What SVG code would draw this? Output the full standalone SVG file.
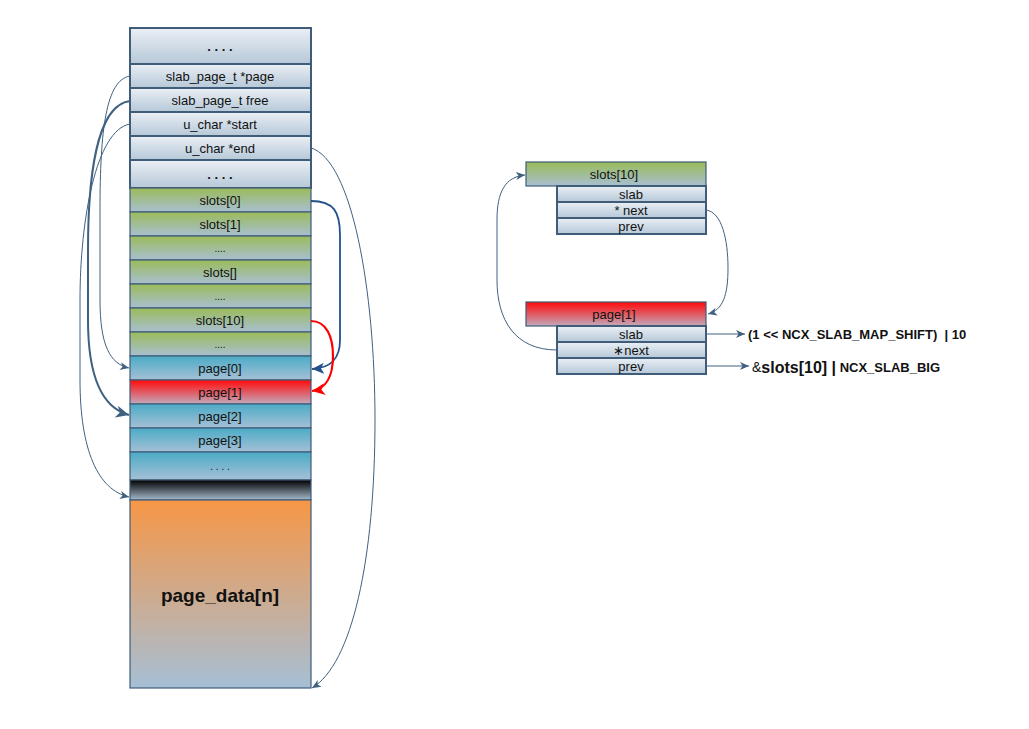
<svg xmlns="http://www.w3.org/2000/svg" width="1029" height="729" viewBox="0 0 1029 729">
<defs>
<style>
text{font-family:"Liberation Sans",Arial,sans-serif;fill:#111;text-anchor:middle;dominant-baseline:central}
.lbl{font-size:13px}
.dot{font-size:10px}
.hdr{stroke:#3f5d78;stroke-width:2}
.row{stroke:#3f5d78;stroke-width:1.2}
.gr{fill:url(#gGray)}
.gn{fill:url(#gGreen)}
.bl{fill:url(#gBlue)}
.rd{fill:url(#gRed)}
.c{fill:none;stroke:#3f6180;stroke-width:1}
.ck{fill:none;stroke:#3f6180;stroke-width:2}
.cb{fill:none;stroke:#24508a;stroke-width:1.8}
.cr{fill:none;stroke:#ff0000;stroke-width:2.2}
.note{text-anchor:start;font-weight:bold;font-size:13px;white-space:pre}
</style>
<linearGradient id="gGray" x1="0" y1="0" x2="0" y2="1"><stop offset="0" stop-color="#eaeff5"/><stop offset="1" stop-color="#b6c8d8"/></linearGradient>
<linearGradient id="gGreen" x1="0" y1="0" x2="0" y2="1"><stop offset="0" stop-color="#9bbb59"/><stop offset="1" stop-color="#a8bfd2"/></linearGradient>
<linearGradient id="gBlue" x1="0" y1="0" x2="0" y2="1"><stop offset="0" stop-color="#4aabc6"/><stop offset="1" stop-color="#a6c0d6"/></linearGradient>
<linearGradient id="gRed" x1="0" y1="0" x2="0" y2="1"><stop offset="0" stop-color="#ff0a0a"/><stop offset="1" stop-color="#c2aabc"/></linearGradient>
<linearGradient id="gBlack" x1="0" y1="0" x2="0" y2="1"><stop offset="0" stop-color="#000000"/><stop offset="1" stop-color="#a5bacd"/></linearGradient>
<linearGradient id="gOrange" x1="0" y1="0" x2="0" y2="1"><stop offset="0" stop-color="#f79646"/><stop offset="1" stop-color="#a6bfd5"/></linearGradient>
<marker id="aS" markerUnits="userSpaceOnUse" markerWidth="9" markerHeight="8" refX="9" refY="4" orient="auto"><path d="M0,0 L9,4 L0,8 L2.5,4 z" fill="#3f6180"/></marker>
<marker id="aK" markerUnits="userSpaceOnUse" markerWidth="13" markerHeight="12" refX="13" refY="6" orient="auto"><path d="M0,0 L13,6 L0,12 L3.5,6 z" fill="#3f6180"/></marker>
<marker id="aB" markerUnits="userSpaceOnUse" markerWidth="12" markerHeight="11" refX="12" refY="5.5" orient="auto"><path d="M0,0 L12,5.5 L0,11 L3,5.5 z" fill="#24508a"/></marker>
<marker id="aR" markerUnits="userSpaceOnUse" markerWidth="13" markerHeight="12" refX="13" refY="6" orient="auto"><path d="M0,0 L13,6 L0,12 L3.5,6 z" fill="#ff0000"/></marker>
</defs>
<rect width="1029" height="729" fill="#ffffff"/>

<g id="memory">
<g id="top-dots"><rect x="130" y="28" width="181" height="36" class="gr hdr"/><text x="220" y="46" style="font-weight:bold;font-size:13px">. . . .</text></g>
<g id="slab-page"><rect x="130" y="64" width="181" height="24" class="gr hdr"/><text x="220" y="76" class="lbl">slab_page_t *page</text></g>
<g id="slab-free"><rect x="130" y="88" width="181" height="24" class="gr hdr"/><text x="220" y="100" class="lbl">slab_page_t free</text></g>
<g id="start"><rect x="130" y="112" width="181" height="24" class="gr hdr"/><text x="220" y="124" class="lbl">u_char *start</text></g>
<g id="end"><rect x="130" y="136" width="181" height="24" class="gr hdr"/><text x="220" y="148" class="lbl">u_char *end</text></g>
<g id="mid-dots"><rect x="130" y="160" width="181" height="28" class="gr hdr"/><text x="220" y="174" style="font-weight:bold;font-size:13px">. . . .</text></g>
<g id="slots0"><rect x="130" y="188" width="181" height="24" class="gn row"/><text x="220" y="200" class="lbl">slots[0]</text></g>
<g id="slots1"><rect x="130" y="212" width="181" height="24" class="gn row"/><text x="220" y="224" class="lbl">slots[1]</text></g>
<g id="slots-dots1"><rect x="130" y="236" width="181" height="24" class="gn row"/><text x="220" y="248" class="dot">....</text></g>
<g id="slots-n"><rect x="130" y="260" width="181" height="24" class="gn row"/><text x="220" y="272" class="lbl">slots[]</text></g>
<g id="slots-dots2"><rect x="130" y="284" width="181" height="24" class="gn row"/><text x="220" y="296" class="dot">....</text></g>
<g id="slots10"><rect x="130" y="308" width="181" height="24" class="gn row"/><text x="220" y="320" class="lbl">slots[10]</text></g>
<g id="slots-dots3"><rect x="130" y="332" width="181" height="24" class="gn row"/><text x="220" y="344" class="dot">....</text></g>
<g id="page0"><rect x="130" y="356" width="181" height="24" class="bl row"/><text x="220" y="368" class="lbl">page[0]</text></g>
<g id="page1"><rect x="130" y="380" width="181" height="24" class="rd row"/><text x="220" y="392" class="lbl">page[1]</text></g>
<g id="page2"><rect x="130" y="404" width="181" height="24" class="bl row"/><text x="220" y="416" class="lbl">page[2]</text></g>
<g id="page3"><rect x="130" y="428" width="181" height="24" class="bl row"/><text x="220" y="440" class="lbl">page[3]</text></g>
<g id="page-dots"><rect x="130" y="452" width="181" height="28" class="bl row"/><text x="220" y="466" class="dot">. . . .</text></g>
<g id="black-row"><rect x="130" y="480" width="181" height="20" fill="url(#gBlack)" class="row"/></g>
<g id="page-data"><rect x="130" y="500" width="181" height="188" fill="url(#gOrange)" class="row"/><text x="220" y="595" style="font-weight:bold;font-size:19px">page_data[n]</text></g>
</g>

<g id="slots10-detail">
<rect x="526" y="162" width="180" height="24" class="gn row"/><text x="614" y="174" class="lbl">slots[10]</text>
<rect x="557" y="186" width="149" height="16" class="gr hdr"/><text x="631" y="194" class="lbl">slab</text>
<rect x="557" y="202" width="149" height="16" class="gr hdr"/><text x="631" y="210" class="lbl">* next</text>
<rect x="557" y="218" width="149" height="16" class="gr hdr"/><text x="631" y="226" class="lbl">prev</text>
</g>

<g id="page1-detail">
<rect x="526" y="302" width="180" height="24" class="rd row"/><text x="614" y="314" class="lbl">page[1]</text>
<rect x="557" y="326" width="149" height="16" class="gr hdr"/><text x="631" y="334" class="lbl">slab</text>
<rect x="557" y="342" width="149" height="16" class="gr hdr"/><text x="631" y="350" class="lbl">∗next</text>
<rect x="557" y="358" width="149" height="16" class="gr hdr"/><text x="631" y="366" class="lbl">prev</text>
</g>

<g id="values">
<text x="748" y="334" class="note">(1 &lt;&lt; NCX_SLAB_MAP_SHIFT)  | 10</text>
<text x="752" y="367" class="note"><tspan style="font-weight:normal;font-size:14px">&amp;</tspan><tspan style="font-size:16px">slots[10] |</tspan> NCX_SLAB_BIG</text>
</g>

<g id="connectors">
<path class="c" marker-end="url(#aS)" d="M130,76 C106,80 100,130 100,210 L100,300 C100,345 110,364 129,368"/>
<path class="ck" marker-end="url(#aK)" d="M130,101 C96,105 88,180 88,250 L88,320 C88,380 103,408 129,415"/>
<path class="c" marker-end="url(#aS)" d="M130,124 C96,130 80,220 80,300 L80,380 C80,450 98,490 129,497"/>
<path class="c" marker-end="url(#aS)" d="M311,148 C352,160 375,290 375,420 C375,560 352,664 312,688"/>
<path class="cb" marker-end="url(#aB)" d="M311,201 C334,201 340,212 340,235 L340,340 C340,360 330,368 312,369"/>
<path class="cr" marker-end="url(#aR)" d="M311,321 C326,321 333,336 333,356 C333,376 326,389 312,391"/>
<path class="c" marker-end="url(#aS)" d="M706,210 C722,212 728,240 728,268 C728,295 723,310 708,314"/>
<path class="c" marker-end="url(#aS)" d="M557,350 C515,350 497,320 497,280 L497,220 C497,192 505,177 525,175"/>
<path class="c" marker-end="url(#aS)" d="M706,334 L745,334"/>
<path class="c" marker-end="url(#aS)" d="M706,366 L749,366"/>
</g>
</svg>
